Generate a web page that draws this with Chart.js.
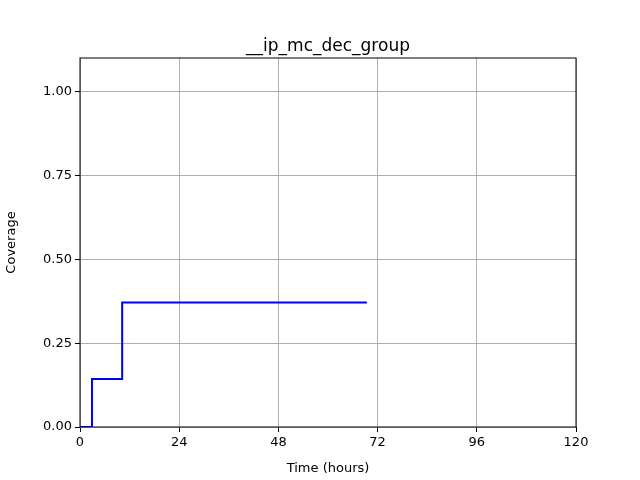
<!DOCTYPE html>
<html><head><script src="https://cdn.jsdelivr.net/npm/chart.js"></script>
<style>body{margin:0;background:#fff}</style></head>
<body><div style="width:640px;height:480px"><canvas id="c"></canvas></div>
<script>
const times = [0, 2.9, 2.9, 10.2, 10.2, 69.4];
const coverage = [0, 0, 0.143, 0.143, 0.371, 0.371];
const xTicks = [0, 24, 48, 72, 96, 120];
const yTicks = [0, 0.25, 0.5, 0.75, 1.0];
const titleText = '__ip_mc_dec_group';
const F = 'DejaVu Sans';
const titlePlugin = {id:'t', afterDraw(ch){const c=ch.ctx,a=ch.chartArea;c.save();c.font='17px "'+F+'"';c.fillStyle='#000';c.textAlign='center';c.textBaseline='alphabetic';c.fillText(titleText,(a.left+a.right)/2,a.top-7);c.restore();}};
const border = {id:'b', afterDatasetsDraw(ch){const c=ch.ctx,a=ch.chartArea;c.save();c.strokeStyle='#000';c.lineWidth=1;c.strokeRect(a.left,a.top,a.right-a.left,a.bottom-a.top);c.restore();}};
new Chart(document.getElementById('c'),{type:'line',
data:{datasets:[{data:times.map((t,i)=>({x:t,y:coverage[i]})),borderColor:'#0000ff',borderWidth:2,pointRadius:0,fill:false,tension:0}]},
options:{responsive:true,maintainAspectRatio:false,animation:false,
layout:{padding:{left:0,right:64,top:58,bottom:0}},
plugins:{legend:{display:false},tooltip:{enabled:false}},
scales:{
x:{type:'linear',min:0,max:120,afterBuildTicks:s=>{s.ticks=xTicks.map(v=>({value:v}))},afterFit:s=>{s.height=53},
grid:{color:'#b0b0b0',tickColor:'#000',tickLength:5},border:{display:false},
ticks:{color:'#000',font:{family:F,size:13},padding:3,maxRotation:0},
title:{display:true,text:'Time (hours)',color:'#000',font:{family:F,size:13},padding:{top:2}}},
y:{type:'linear',min:0,max:1.1,afterBuildTicks:s=>{s.ticks=yTicks.map(v=>({value:v}))},afterFit:s=>{s.width=80},
grid:{color:'#b0b0b0',tickColor:'#000',tickLength:5},border:{display:false},
ticks:{color:'#000',font:{family:F,size:13},padding:3,callback:v=>v.toFixed(2)},
title:{display:true,text:'Coverage',color:'#000',font:{family:F,size:13},padding:{bottom:6}}}
}},plugins:[titlePlugin,border]});
</script></body></html>
